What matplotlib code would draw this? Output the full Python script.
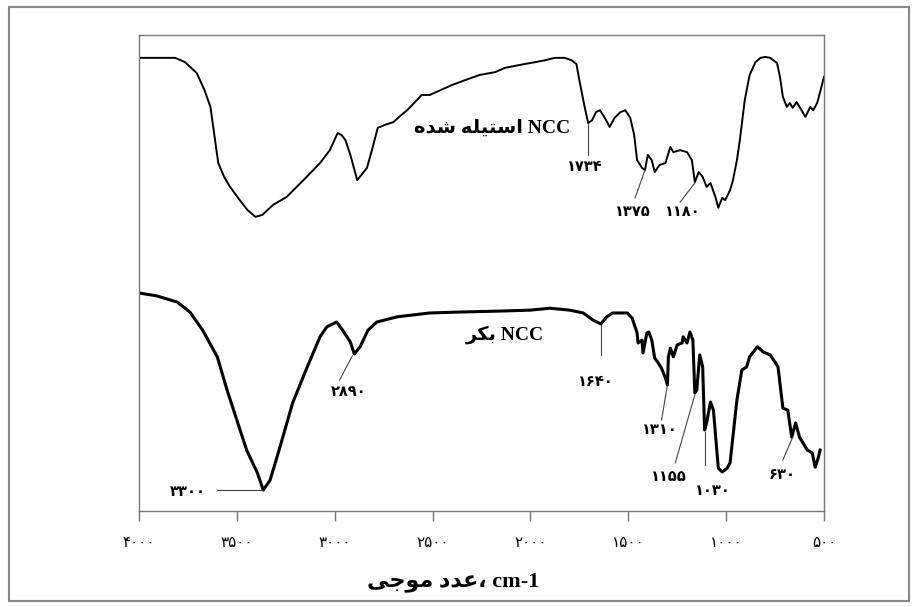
import numpy as np
import matplotlib
matplotlib.use('Agg')
import matplotlib.pyplot as plt
from matplotlib.patches import Rectangle

# acetylated NCC (upper spectrum)
wn_acetyl = [3995, 3895, 3815, 3765, 3705, 3665, 3635, 3615, 3595, 3565, 3535, 3485, 3445, 3405, 3370,
             3315, 3245, 3160, 3075, 3025, 2985, 2965, 2945, 2920, 2885, 2860, 2835, 2810, 2780, 2745,
             2700, 2665, 2630, 2590, 2555, 2515, 2460, 2400, 2335, 2260, 2180, 2130, 2080, 2030, 1975,
             1925, 1875, 1825, 1790, 1765, 1750, 1725, 1705, 1685, 1665, 1645, 1620, 1595, 1570, 1540,
             1515, 1490, 1470, 1455, 1430, 1415, 1400, 1380, 1365, 1340, 1310, 1285, 1270, 1235, 1200,
             1175, 1160, 1140, 1120, 1100, 1080, 1055, 1040, 1020, 1005, 980, 965, 945, 930, 905,
             880, 850, 825, 800, 775, 740, 725, 710, 690, 675, 660, 640, 625, 595, 570,
             555, 535, 520, 500]
t_acetyl = [95.2, 95.2, 95.2, 94.3, 92.0, 88.4, 84.9, 79.0, 73.1, 70.2, 68.1, 65.3, 63.2, 61.8, 62.2,
            64.3, 66.0, 69.5, 73.1, 75.8, 79.4, 79.0, 77.9, 74.8, 69.5, 70.8, 72.1, 75.8, 80.5, 81.1,
            81.7, 83.0, 84.2, 85.9, 87.4, 87.4, 88.4, 89.5, 90.5, 91.6, 92.2, 93.1, 93.5, 93.9, 94.3,
            94.7, 95.2, 95.2, 94.7, 93.9, 90.5, 85.3, 81.5, 82.1, 83.8, 84.2, 82.6, 80.7, 82.6, 83.8,
            84.2, 82.6, 79.0, 73.7, 72.1, 71.6, 74.8, 73.7, 71.2, 72.7, 73.1, 76.5, 75.4, 75.8, 75.4,
            73.7, 69.1, 71.2, 70.2, 68.1, 68.9, 66.0, 63.7, 65.8, 65.3, 67.4, 69.5, 73.7, 77.9, 86.3,
            91.6, 94.3, 95.2, 95.4, 95.2, 94.1, 91.2, 87.0, 84.9, 85.7, 84.7, 85.9, 84.9, 82.8, 84.9,
            84.2, 85.7, 88.0, 91.2]

# raw NCC (lower spectrum)
wn_raw = [4000, 3910, 3805, 3740, 3675, 3600, 3550, 3500, 3450, 3395, 3365, 3330, 3280, 3215, 3140,
          3075, 3040, 2990, 2960, 2920, 2900, 2870, 2830, 2785, 2680, 2515, 2360, 2155, 2000, 1900,
          1800, 1730, 1680, 1640, 1610, 1580, 1505, 1480, 1455, 1450, 1430, 1425, 1405, 1395, 1380,
          1365, 1350, 1330, 1310, 1300, 1295, 1285, 1270, 1250, 1225, 1220, 1200, 1185, 1170, 1160,
          1150, 1135, 1120, 1110, 1100, 1080, 1065, 1040, 1020, 995, 980, 945, 920, 895, 880,
          840, 810, 775, 735, 710, 685, 665, 645, 625, 585, 560, 545, 530, 520]
t_raw = [45.8, 45.2, 43.9, 41.8, 38.0, 32.4, 25.4, 19.1, 12.8, 8.0, 4.4, 6.5, 13.4, 22.7, 30.3,
         36.6, 38.7, 39.7, 38.0, 35.5, 33.0, 34.5, 38.0, 39.7, 40.8, 41.6, 41.8, 42.0, 42.2, 42.6,
         42.2, 41.6, 40.1, 39.3, 40.8, 41.6, 41.6, 40.5, 37.4, 35.3, 35.9, 33.2, 37.4, 37.6, 35.9,
         32.1, 31.3, 30.0, 27.9, 26.5, 32.4, 34.2, 32.4, 34.9, 35.3, 36.6, 35.3, 37.6, 35.9, 24.8,
         25.4, 32.8, 30.3, 17.0, 18.5, 22.9, 21.2, 9.0, 8.2, 9.0, 10.1, 23.3, 29.6, 30.3, 32.4,
         34.5, 33.4, 32.8, 30.3, 21.6, 21.2, 15.5, 18.5, 15.5, 12.8, 12.2, 9.2, 11.1, 12.8]

x_ticks = [4000, 3500, 3000, 2500, 2000, 1500, 1000, 500]
x_tick_labels = ['۴۰۰۰', '۳۵۰۰', '۳۰۰۰', '۲۵۰۰', '۲۰۰۰', '۱۵۰۰', '۱۰۰۰', '۵۰۰']

# peak labels: text, line start (on curve), line end, text position
peak_labels = ['۱۷۳۴', '۱۳۷۵', '۱۱۸۰', '۳۳۰۰', '۲۸۹۰', '۱۶۴۰', '۱۳۱۰', '۱۱۵۵', '۱۰۳۰', '۶۳۰']
peak_line_start = [(1705, 81.5), (1415, 71.6), (1160, 68.9), (3600, 4.4), (2910, 32.6),
                   (1640, 39.1), (1300, 26.5), (1160, 24.4), (1110, 16.6), (660, 15.5)]
peak_line_end = [(1705, 74.8), (1465, 65.8), (1235, 64.9), (3370, 4.4), (2975, 27.5),
                 (1640, 32.8), (1330, 19.1), (1260, 10.1), (1110, 9.7), (710, 10.7)]
peak_text_pos = [(1720, 72.4), (1475, 62.9), (1220, 62.9), (3750, 4.1), (2930, 25.0),
                 (1665, 27.3), (1340, 17.2), (1295, 7.2), (1065, 4.3), (715, 7.6)]

# Persian labels, written in visual (left to right) order with presentation forms
label_acetyl = '\uFEE9\uFEAA\uFEB7 \uFEEA\uFEE0\uFBFF\uFE98\uFEB3\uFE8D NCC'
label_raw = '\uFEAE\uFB91\uFE91 NCC'
x_title = '\uFBFD\uFE9F\uFEEE\uFEE3 \uFEA9\uFEAA\uFECB\u060C cm-1'

mixed = ['Liberation Serif', 'DejaVu Sans']

fig = plt.figure(figsize=(9.19, 6.07), dpi=100)
ax = fig.add_axes([139/919, 96/607, 685/919, 476/607])

ax.plot(wn_acetyl, t_acetyl, color='black', lw=1.4)
ax.plot(wn_raw, t_raw, color='black', lw=2.2)

for lab, p0, p1, pt in zip(peak_labels, peak_line_start, peak_line_end, peak_text_pos):
    ax.plot([p0[0], p1[0]], [p0[1], p1[1]], color='#444444', lw=0.8)
    ax.text(pt[0], pt[1], lab, ha='center', va='center', fontsize=10.5,
            fontweight='bold', family='DejaVu Sans')

ax.text(2195, 80.5, label_acetyl, ha='center', va='center', fontsize=14,
        fontweight='bold', family=mixed)
ax.text(2130, 37.0, label_raw, ha='center', va='center', fontsize=14,
        fontweight='bold', family=mixed)

ax.set_xlim(4000, 500)
ax.set_ylim(0, 100)
ax.set_xticks(x_ticks)
ax.set_xticklabels(x_tick_labels, family='DejaVu Sans', fontsize=11)
ax.tick_params(axis='x', direction='out', length=7, width=1, color='#777777', pad=10)
ax.set_yticks([])
for s in ax.spines.values():
    s.set_color('#777777')
    s.set_linewidth(1.0)

fig.text(453/919, 1 - 582/607, x_title, ha='center', va='center', fontsize=16,
         fontweight='bold', family=mixed)

fig.patches.append(Rectangle((9/919, 6/607), 900/919, 594/607, transform=fig.transFigure,
                             fill=False, edgecolor='#888888', lw=1.5))

fig.savefig('out.png', dpi=100)
